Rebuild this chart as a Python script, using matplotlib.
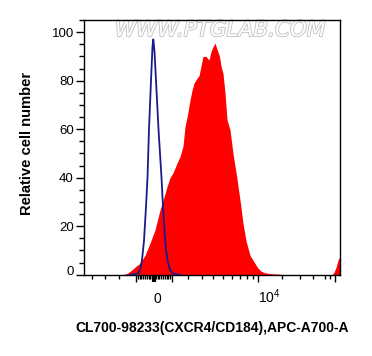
import matplotlib
matplotlib.use("Agg")
import matplotlib.pyplot as plt
import matplotlib.patheffects as pe

plt.rcParams['font.family'] = ['Liberation Sans', 'DejaVu Sans']
plt.rcParams['mathtext.fontset'] = 'custom'
plt.rcParams['mathtext.rm'] = 'Liberation Sans'
plt.rcParams['mathtext.it'] = 'Liberation Sans'

# ---- data (x in display channel units 0..256) ----
red_x = [30, 38, 43, 48, 52, 56, 61, 66, 71, 76, 80, 83, 86, 89, 93, 96, 99, 101,
         104, 106, 108, 110, 113, 115, 117, 119, 122, 125, 127, 129, 131, 133,
         135.5, 137, 139, 141, 143, 146, 149, 153, 156, 159, 162, 164, 166, 169,
         172, 174, 177, 180, 186, 193, 200, 220, 248, 250, 252, 254, 256]
red_y = [0, 0, 0.5, 2, 3.5, 4.7, 8, 13, 18.5, 26.7, 32, 36.3, 40, 42, 46, 48.7, 53, 61,
         67, 72, 76, 79, 81, 82, 86, 90, 90, 88.5, 92, 94, 95.5, 93,
         90, 86, 83, 75, 64, 59.7, 50, 39.5, 30.8, 21.2, 14, 11, 8, 6,
         4, 2.7, 1.5, 0.9, 0.5, 0.3, 0.1, 0, 0, 1, 3, 6, 7.5]

blue_x = [46, 50, 54, 56, 58, 60, 62, 63.5, 65, 67, 68.5, 69.3, 70.5, 72, 74.5,
          77.5, 79, 80.5, 82, 84, 86, 89, 92, 96]
blue_y = [0, 0.2, 0.5, 2, 6, 14, 28, 40, 60, 80, 94, 97, 92, 80, 60,
          40, 28, 18, 10, 5, 2, 0.5, 0.2, 0]

y_major = [0, 20, 40, 60, 80, 100]
y_minor = [5, 10, 15, 25, 30, 35, 45, 50, 55, 65, 70, 75, 85, 90, 95, 105]

x_major = [52, 70, 88, 174, 251]
x_major_labels = ['', '0', '', '$10^4$', '']
x_minor = [8, 21, 35,
           53.8, 55.6, 57.4, 59.2, 61.0, 62.8, 64.6, 66.4, 68.2,
           71.8, 73.6, 75.4, 77.2, 79.0, 80.8, 82.6, 84.4, 86.2,
           104, 118, 129, 139, 148, 156, 163, 169,
           198, 216, 229, 241, 246]

xlabel = 'CL700-98233(CXCR4/CD184),APC-A700-A'
ylabel = 'Relative cell number'
watermark = 'WWW.PTGLAB.COM'

# ---- figure ----
W, H = 372, 356
fig = plt.figure(figsize=(W / 100, H / 100), dpi=100)
ax = fig.add_axes([84 / W, 1 - 275 / H, 256 / W, 255 / H])

ax.fill_between(red_x, red_y, 0, color='#ff0000', lw=0, zorder=2)
ax.plot(blue_x, blue_y, color='#1a1a8c', lw=1.3, zorder=3)

ax.set_xlim(0, 256)
ax.set_ylim(-0.1, 105)

for s in ax.spines.values():
    s.set_linewidth(1.0)
    s.set_color('black')

ax.set_yticks(y_major)
ax.set_yticks(y_minor, minor=True)
ax.set_yticklabels([str(v) for v in y_major])
ax.set_xticks(x_major)
ax.set_xticks(x_minor, minor=True)
ax.set_xticklabels(x_major_labels)

ax.tick_params(axis='y', which='major', length=5.8, width=1, labelsize=9.5, pad=1.5)
ax.tick_params(axis='y', which='minor', length=3.4, width=1)
ax.tick_params(axis='x', which='major', length=4.8, width=1, labelsize=10, pad=15.2)
ax.tick_params(axis='x', which='minor', length=2.8, width=1)

for lab in ax.get_xticklabels():
    lab.set_ha('left')
    lab.set_va('baseline')
ax.get_yticklabels()[0].set_va('baseline')
ax.xaxis.get_major_ticks()[1].tick1line.set_markeredgewidth(3)

ax.set_xlabel(xlabel, fontsize=10, fontweight='bold')
ax.xaxis.label.set_va('center')
ax.xaxis.set_label_coords(0.5, (275 - 327.7) / 255)
ax.set_ylabel(ylabel, fontsize=10.6, fontweight='bold')
ax.yaxis.label.set_va('center')
ax.yaxis.set_label_coords((26.7 - 84) / 256, (275 - 143.5) / 255)

ax.text((220 - 84) / 256, (275 - 30) / 255, watermark, transform=ax.transAxes,
        ha='center', va='center', fontsize=15.5, style='italic', color='white',
        family=['DejaVu Sans'],
        path_effects=[pe.withStroke(linewidth=1.3, foreground='#c4c4c4')], zorder=1)

fig.savefig('out.png', dpi=100)
